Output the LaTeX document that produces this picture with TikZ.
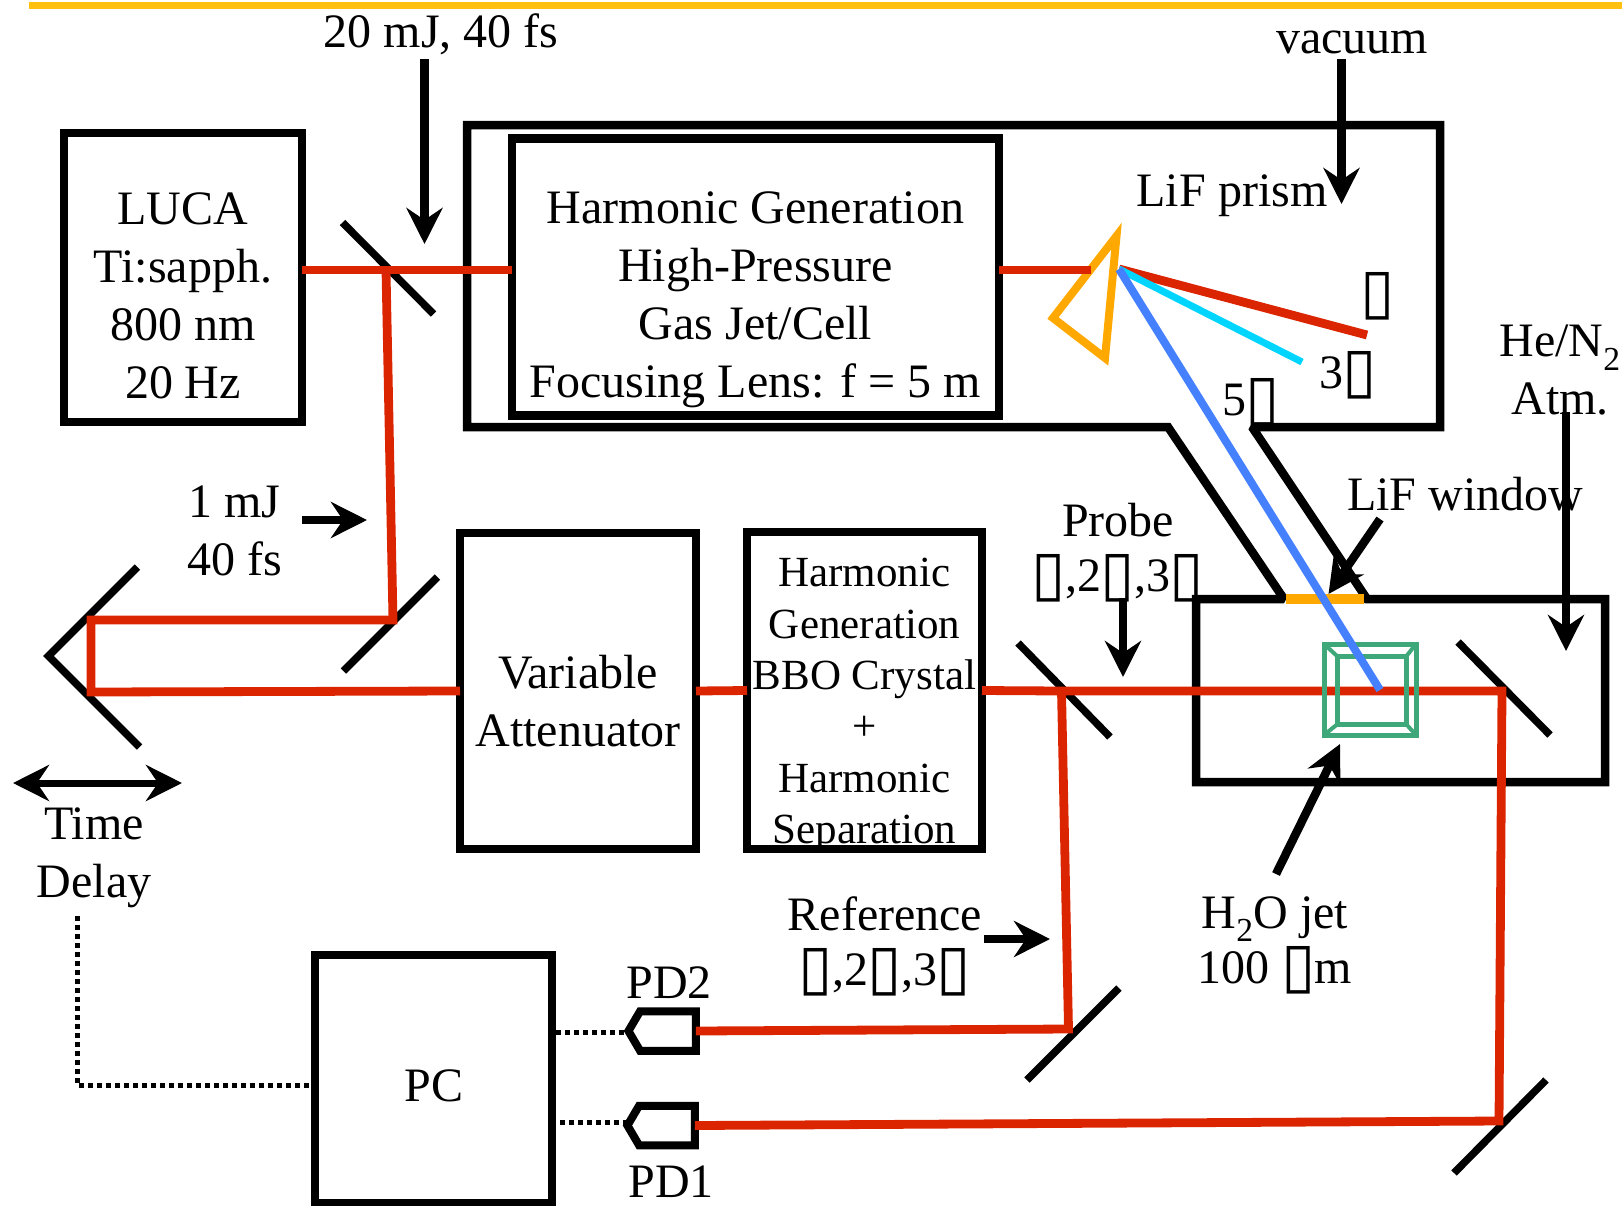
\documentclass[tikz,border=0pt]{standalone}
\usepackage{fontspec}
\setmainfont{Liberation Serif}
\newfontfamily\tofufont[Scale=1.3]{DejaVu Sans}
\usepackage{tikz}
\usetikzlibrary{arrows.meta}
\usetikzlibrary{shapes.symbols}
\definecolor{beamred}{RGB}{219, 36, 0}
\definecolor{beamcyan}{RGB}{0, 213, 255}
\definecolor{beamblue}{RGB}{69, 128, 255}
\definecolor{prismorange}{RGB}{255, 168, 0}
\definecolor{topbar}{RGB}{255, 192, 16}
\definecolor{jetgreen}{RGB}{63, 168, 122}
\newcommand{\tofu}{\makebox[33pt][c]{\raisebox{-3pt}[0pt][0pt]{\tofufont\char"25AF}}}
\tikzset{
  box/.style={rectangle, draw=black, line width=8.5pt, outer sep=0pt, inner sep=0pt},
  lbl/.style={inner sep=0pt, outer sep=0pt, align=center, font=\fontsize{48}{58}\selectfont},
  smalllbl/.style={lbl, font=\fontsize{43}{51.4}\selectfont},
  beam/.style={line width=8.8pt, color=beamred},
  mirror/.style={line width=7.5pt, color=black},
  arrowline/.style={line width=8.5pt, color=black, -{Stealth[length=36pt, width=36pt, inset=12pt]}},
  dotline/.style={line width=5pt, color=black, dash pattern=on 4.5pt off 4.5pt},
  pdbox/.style={signal, signal to=west, signal pointer angle=119, draw=black, line width=8pt, minimum width=67.5pt, minimum height=39.5pt, outer sep=0pt, inner sep=0pt},
}
\begin{document}
\begin{tikzpicture}
\useasboundingbox (0pt, 0pt) rectangle (1622pt, -1205pt);
\fill [topbar] (29pt, -2pt) rectangle (1622pt, -9pt);
\node (luca) [box, minimum width=238pt, minimum height=289pt] at (183.0pt, -277.5pt) {};
\node (hhg) [box, minimum width=487pt, minimum height=277pt] at (755.5pt, -277.0pt) {};
\node (atten) [box, minimum width=236pt, minimum height=316pt] at (578.0pt, -691.0pt) {};
\node (bbo) [box, minimum width=235pt, minimum height=317pt] at (864.5pt, -690.5pt) {};
\node (pc) [box, minimum width=237pt, minimum height=248pt] at (433.5pt, -1079.0pt) {};
\node (lucalabel) [lbl] at (183.0pt, -296.0pt) {LUCA\\Ti:sapph.\\800 nm\\20 Hz};
\node (hhglabel) [lbl] at (755.5pt, -300.0pt) {Harmonic Generation\\High-Pressure\\Gas Jet/Cell\\Focusing Lens: f = 5 m};
\node (attenlabel) [lbl] at (578.0pt, -701.0pt) {Variable\\Attenuator};
\node (bbolabel) [smalllbl] at (864.5pt, -705.5pt) {Harmonic\\Generation\\BBO Crystal\\+\\Harmonic\\Separation};
\node (pclabel) [lbl] at (434.0pt, -1086.0pt) {PC};
\node (pd2) [pdbox] at (668.0pt, -1031.0pt) {};
\node (pd1) [pdbox] at (667.0pt, -1125.5pt) {};
\node (pdtwo) [lbl] at (669.0pt, -983.0pt) {PD2};
\node (pdone) [lbl] at (671.0pt, -1182.0pt) {PD1};
\node (pulse) [lbl] at (441.0pt, -34.0pt) {20 mJ, 40 fs};
\node (vacuum) [lbl] at (1352.0pt, -42.0pt) {vacuum};
\node (prismlabel) [lbl] at (1232.0pt, -196.0pt) {LiF prism};
\node (fund) [lbl] at (1378.0pt, -309.0pt) {\tofu};
\node (third) [lbl] at (1348.0pt, -373.0pt) {3\tofu};
\node (fifth) [lbl] at (1251.0pt, -400.0pt) {5\tofu};
\node (atm) [lbl] at (1560.0pt, -370.0pt) {He/N\textsubscript{2}\\Atm.};
\node (energy) [lbl] at (234.5pt, -531.0pt) {1 mJ\\40 fs};
\node (probe) [lbl] at (1118.0pt, -551.0pt) {Probe\\[-3pt]\tofu,2\tofu,3\tofu};
\node (window) [lbl] at (1465.0pt, -494.0pt) {LiF window};
\node (delay) [lbl] at (94.0pt, -858.0pt) {Time\\Delay};
\node (reference) [lbl] at (885.0pt, -945.0pt) {Reference\\[-3pt]\tofu,2\tofu,3\tofu};
\node (jet) [lbl] at (1275.0pt, -940.0pt) {H\textsubscript{2}O jet\\[-3pt]100 \tofu m};
\coordinate (split1) at (386.0pt, -270.0pt);
\coordinate (fold1) at (393.0pt, -620.0pt);
\coordinate (retro1) at (91.0pt, -620.0pt);
\coordinate (retro2) at (91.0pt, -692.0pt);
\coordinate (split2) at (1061.5pt, -691.0pt);
\coordinate (fold2) at (1502.0pt, -691.0pt);
\coordinate (fold3) at (1068.5pt, -1029.0pt);
\coordinate (fold4) at (1499.0pt, -1121.0pt);
\coordinate (prismin) at (1091.0pt, -270.0pt);
\coordinate (prismout) at (1119.0pt, -269.0pt);
\coordinate (redend) at (1367.0pt, -335.0pt);
\coordinate (cyanend) at (1302.0pt, -362.0pt);
\coordinate (blueend) at (1380.0pt, -690.0pt);
\draw [line width=8.5pt, color=black, miter limit=1.5] (1168pt, -427pt) -- (1284pt, -599pt) -- (1196pt, -599pt) -- (1196pt, -782pt) -- (1605pt, -782pt) -- (1605pt, -599pt) -- (1367pt, -599pt) -- (1252pt, -427pt) -- (1440pt, -427pt) -- (1440pt, -125pt) -- (467pt, -125pt) -- (467pt, -427pt) -- cycle;
\fill [prismorange] (1286pt, -594pt) rectangle (1364pt, -604pt);
\draw [mirror] (342.5pt, -222.5pt) to (433.5pt, -314pt);
\draw [mirror] (437.5pt, -577pt) to (343.5pt, -671pt);
\draw [mirror] (137.5pt, -567pt) -- (48.5pt, -656pt) -- (139.5pt, -747pt);
\draw [mirror] (1018pt, -643pt) to (1110pt, -737pt);
\draw [mirror] (1458pt, -642pt) to (1550pt, -735pt);
\draw [mirror] (1119pt, -988pt) to (1027pt, -1080pt);
\draw [mirror] (1546pt, -1080pt) to (1454pt, -1173pt);
\draw [line width=8pt, color=prismorange] (1116.5pt, -236pt) -- (1053pt, -318pt) -- (1105pt, -358pt) -- cycle;
\draw [beam] (split1 -| luca.east) to (split1 -| hhg.west);
\draw [beam] (hhg.east |- prismin) to (prismin);
\draw [beam] (split1) -- (fold1) -- (retro1) -- (retro2) -- (atten.west);
\draw [beam] (atten.east) to (bbo.west);
\draw [beam] (bbo.east) -- (split2) -- (fold2) -- (fold4) -- (pd1.east);
\draw [beam] (split2) -- (fold3) -- (pd2.east);
\draw [beam] (prismout) to (redend);
\draw [line width=7pt, color=beamcyan] (prismout) to (cyanend);
\node (cell) [rectangle, draw=jetgreen, line width=5pt, minimum width=92pt, minimum height=91pt, outer sep=0pt] at (1370.0pt, -689.5pt) {};
\node (cellin) [rectangle, draw=jetgreen, line width=5pt, minimum width=69.5pt, minimum height=68.5pt, outer sep=0pt] at (1371.75pt, -690.25pt) {};
\draw [line width=4pt, color=jetgreen] (cell.north west) to (cellin.north west);
\draw [line width=4pt, color=jetgreen] (cell.north east) to (cellin.north east);
\draw [line width=4pt, color=jetgreen] (cell.south west) to (cellin.south west);
\draw [line width=4pt, color=jetgreen] (cell.south east) to (cellin.south east);
\draw [line width=8pt, color=beamblue] (prismout) to (blueend);
\draw [dotline] (77pt, -916pt) coordinate (delayend) -- (77pt, -1085pt) coordinate (delaycorner) -- (delaycorner -| pc.west);
\draw [dotline] (556pt, -1032pt) coordinate (pd2tail) to (pd2tail -| pd2.west);
\draw [dotline] (560pt, -1122pt) coordinate (pd1tail) to (pd1tail -| pd1.west);
\draw [arrowline] (424.5pt, -59pt) coordinate (a1) to (424.5pt, -244pt);
\draw [arrowline] (1341.5pt, -59pt) coordinate (a2) to (1341.5pt, -204pt);
\draw [arrowline] (302pt, -520pt) coordinate (a3) to (367pt, -520pt);
\draw [line width=7pt, color=black, {Stealth[length=36pt, width=36pt, inset=12pt]}-{Stealth[length=36pt, width=36pt, inset=12pt]}] (13pt, -783pt) coordinate (a4) to (182pt, -783pt);
\draw [arrowline] (1566pt, -412pt) coordinate (a5) to (1566pt, -651pt);
\draw [arrowline] (1380pt, -519pt) coordinate (a6) to (1328.5pt, -594pt);
\draw [arrowline] (1123pt, -598pt) coordinate (a7) to (1123pt, -677pt);
\draw [arrowline] (1276pt, -874pt) coordinate (a8) to (1340pt, -744pt);
\draw [arrowline] (984pt, -939pt) coordinate (a9) to (1050pt, -939pt);
\end{tikzpicture}
\end{document}
